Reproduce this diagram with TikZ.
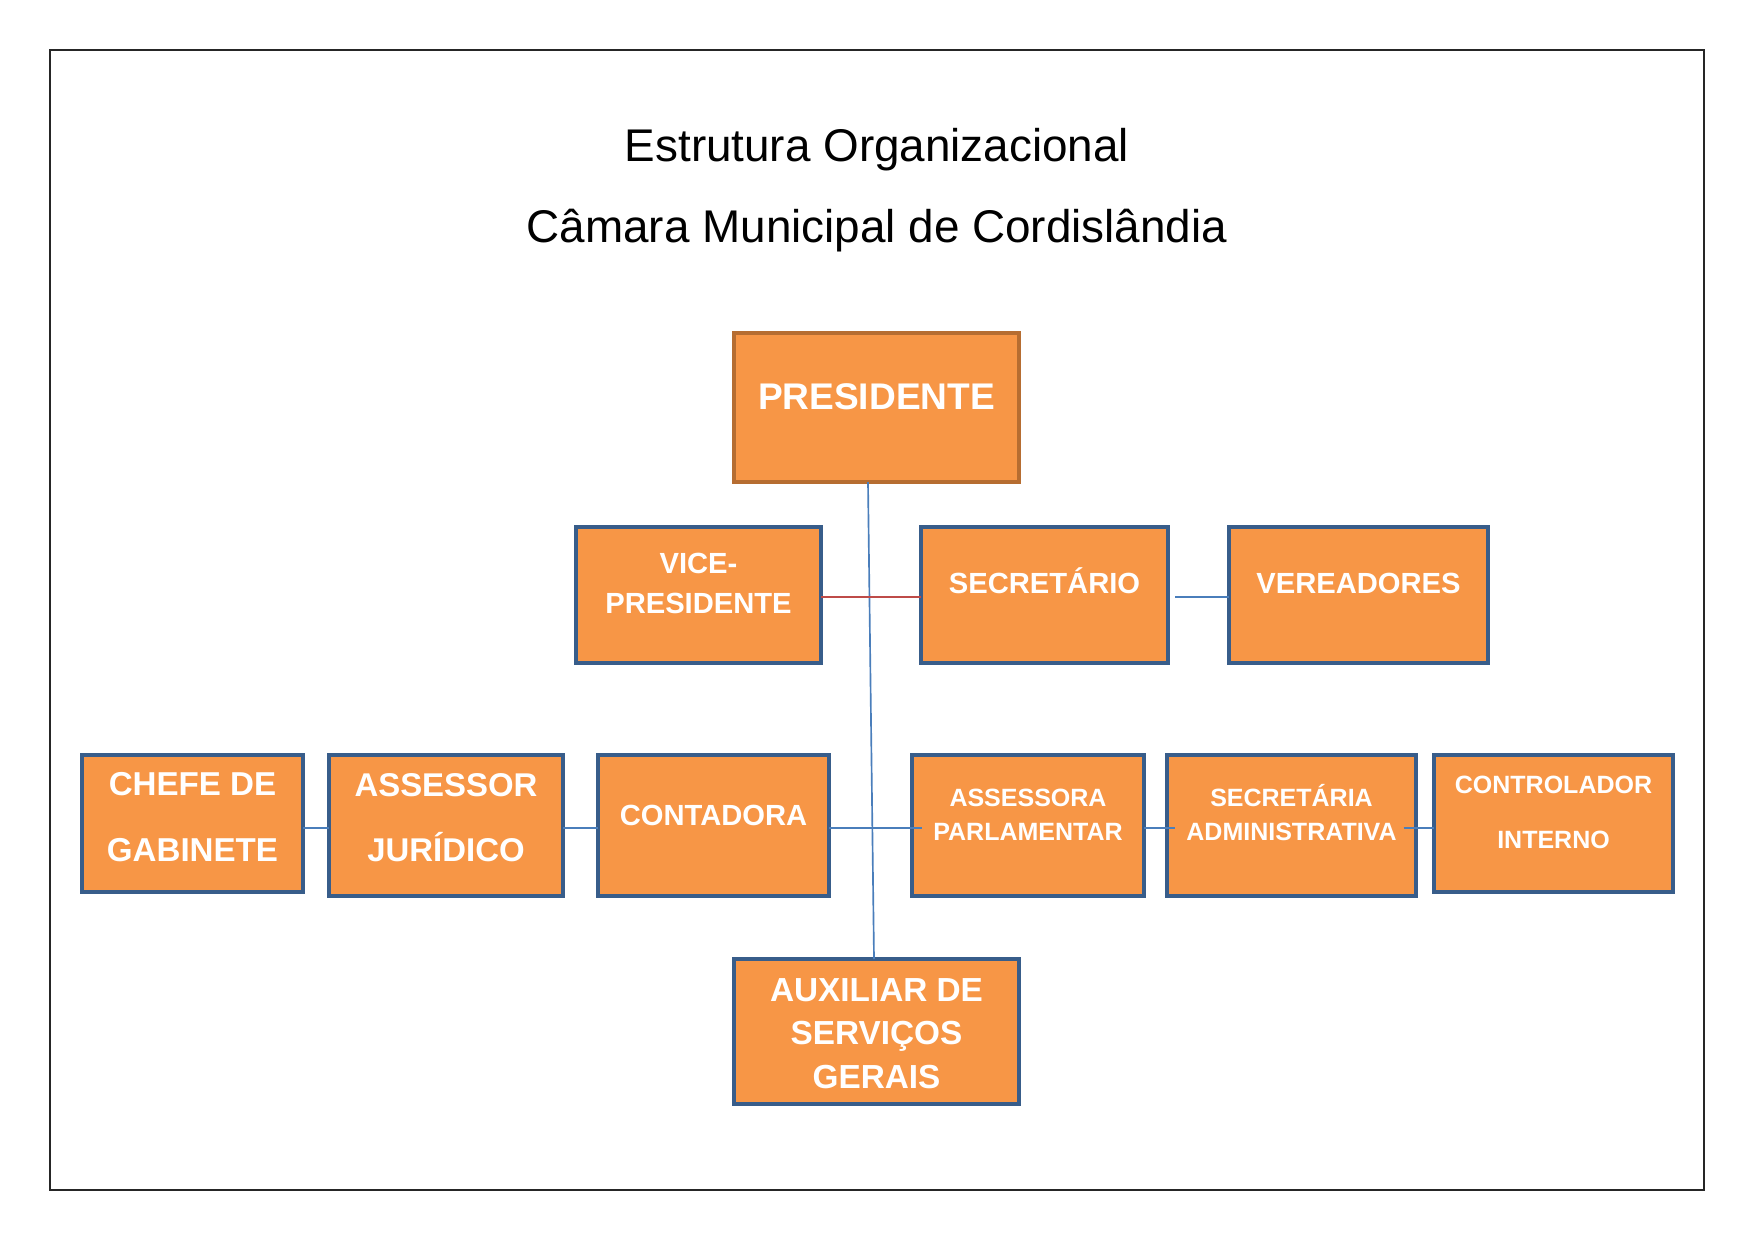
\documentclass[tikz,border=0pt]{standalone}
\usepackage{fontspec}
\setmainfont{Liberation Sans}
\usetikzlibrary{fit}
\definecolor{orfill}{HTML}{F79646}
\definecolor{bxblue}{HTML}{385D8A}
\definecolor{presbd}{HTML}{B66D31}
\definecolor{lnblue}{HTML}{4A7EBB}
\definecolor{lnred}{HTML}{BE4B48}
\newcommand\bfsz[1]{\fontsize{#1}{#1}\selectfont\bfseries}
\tikzset{
  orgbox/.style={draw=bxblue, fill=orfill, line width=1.5pt, inner sep=0pt, outer sep=0pt},
  presbox/.style={orgbox, draw=presbd},
  lbl/.style={text=white, anchor=base, inner sep=0pt},
  conn/.style={draw=lnblue, line width=0.8pt},
  connred/.style={draw=lnred, line width=0.8pt},
}
\begin{document}
\begin{tikzpicture}[x=0.48pt, y=-0.48pt]
\useasboundingbox (0,0) rectangle (1754,1241);
\node[draw=black!85, line width=1pt, inner sep=0pt, fit={(50,50) (1704,1190)}] (frame) {};
% title
\node[anchor=base, inner sep=0pt, font=\fontsize{22}{22}\selectfont] (title1) at (877,161) {Estrutura Organizacional};
\node[anchor=base, inner sep=0pt, font=\fontsize{22}{22}\selectfont] (title2) at (877,242) {Câmara Municipal de Cordislândia};
% boxes
\node[presbox, fit={(734,333) (1019,482)}] (pres) {};
\node[orgbox, fit={(576,527) (821,663)}] (vice) {};
\node[orgbox, fit={(921,527) (1168,663)}] (sec) {};
\node[orgbox, fit={(1229,527) (1488,663)}] (ver) {};
\node[orgbox, fit={(82,755) (303,892)}] (chefe) {};
\node[orgbox, fit={(329,755) (563,896)}] (ass) {};
\node[orgbox, fit={(598,755) (829,896)}] (cont) {};
\node[orgbox, fit={(912,755) (1144,896)}] (parl) {};
\node[orgbox, fit={(1167,755) (1416,896)}] (secadm) {};
\node[orgbox, fit={(1434,755) (1673,892)}] (ctrl) {};
\node[orgbox, fit={(734,959) (1019,1104)}] (aux) {};
% connectors
\coordinate (vtop) at (868,482);
\coordinate (vbot) at (874,959);
\coordinate (r3) at (0,828);
\coordinate (r2) at (0,597);
\draw[conn] (vtop) -- (vbot);
\draw[connred] (vice.east |- r2) -- (sec.west |- r2);
\draw[conn] ([xshift=3.5pt]sec.east |- r2) -- (ver.west |- r2);
\draw[conn] (chefe.east |- r3) -- (ass.west |- r3);
\draw[conn] (ass.east |- r3) -- (cont.west |- r3);
\draw[conn] (cont.east |- r3) -- ([xshift=5pt]parl.west |- r3);
\draw[conn] (parl.east |- r3) -- ([xshift=4pt]secadm.west |- r3);
\draw[conn] ([xshift=-6pt]secadm.east |- r3) -- (ctrl.west |- r3);
% labels
\node[lbl, font=\bfsz{17.8}] (presT) at (876.5,409) {PRESIDENTE};
\node[lbl, font=\bfsz{14}] (viceT1) at (698.5,573) {VICE-};
\node[lbl, font=\bfsz{14}] (viceT2) at (698.5,613) {PRESIDENTE};
\node[lbl, font=\bfsz{14}] (secT) at (1044.5,593) {SECRETÁRIO};
\node[lbl, font=\bfsz{14}] (verT) at (1358.5,593) {VEREADORES};
\node[lbl, font=\bfsz{15.9}] (chefeT1) at (192.5,795) {CHEFE DE};
\node[lbl, font=\bfsz{15.9}] (chefeT2) at (192.5,861) {GABINETE};
\node[lbl, font=\bfsz{15.8}] (assT1) at (446,796) {ASSESSOR};
\node[lbl, font=\bfsz{15.8}] (assT2) at (446,861) {JURÍDICO};
\node[lbl, font=\bfsz{14}] (contT) at (713.5,825) {CONTADORA};
\node[lbl, font=\bfsz{12}] (parlT1) at (1028,806) {ASSESSORA};
\node[lbl, font=\bfsz{12}] (parlT2) at (1028,840) {PARLAMENTAR};
\node[lbl, font=\bfsz{12}] (secadmT1) at (1291.5,806) {SECRETÁRIA};
\node[lbl, font=\bfsz{12}] (secadmT2) at (1291.5,840) {ADMINISTRATIVA};
\node[lbl, font=\bfsz{12}] (ctrlT1) at (1553.5,793) {CONTROLADOR};
\node[lbl, font=\bfsz{12}] (ctrlT2) at (1553.5,848) {INTERNO};
\node[lbl, font=\bfsz{16}] (auxT1) at (876.5,1001) {AUXILIAR DE};
\node[lbl, font=\bfsz{16}] (auxT2) at (876.5,1044) {SERVIÇOS};
\node[lbl, font=\bfsz{16}] (auxT3) at (876.5,1088) {GERAIS};
\end{tikzpicture}
\end{document}
